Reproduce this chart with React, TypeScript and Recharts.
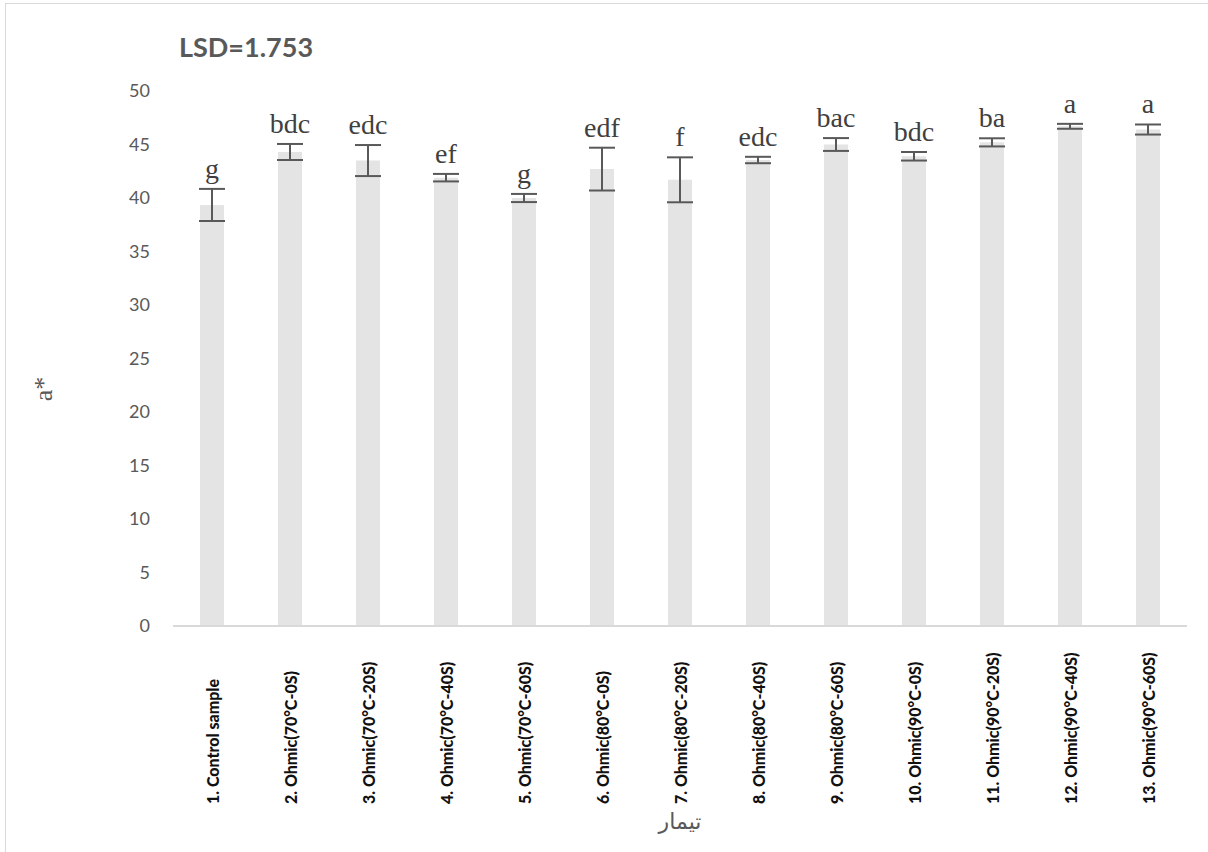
import React from 'react';
import { BarChart, Bar, XAxis, YAxis, ErrorBar, LabelList } from 'recharts';

const treatments = [
  '1. Control sample',
  '2. Ohmic(70°C-0S)',
  '3. Ohmic(70°C-20S)',
  '4. Ohmic(70°C-40S)',
  '5. Ohmic(70°C-60S)',
  '6. Ohmic(80°C-0S)',
  '7. Ohmic(80°C-20S)',
  '8. Ohmic(80°C-40S)',
  '9. Ohmic(80°C-60S)',
  '10. Ohmic(90°C-0S)',
  '11. Ohmic(90°C-20S)',
  '12. Ohmic(90°C-40S)',
  '13. Ohmic(90°C-60S)',
];
const aStar = [39.35, 44.3, 43.5, 41.9, 40.0, 42.7, 41.7, 43.55, 45.0, 43.9, 45.2, 46.7, 46.4];
const aStarSd = [1.5, 0.75, 1.45, 0.35, 0.38, 2.0, 2.1, 0.3, 0.6, 0.4, 0.38, 0.23, 0.47];
const groups = ['g', 'bdc', 'edc', 'ef', 'g', 'edf', 'f', 'edc', 'bac', 'bdc', 'ba', 'a', 'a'];
const yTicks = [0, 5, 10, 15, 20, 25, 30, 35, 40, 45, 50];

const data = treatments.map((name, i) => ({ name, value: aStar[i], err: aStarSd[i], group: groups[i] }));

const GREY = '#595959';
const SERIF = "'Liberation Serif', 'Times New Roman', serif";

// rotated category names, anchored at their bottom end
function TreatmentTick({ x, y, payload }: any) {
  const ty = y + 178;
  return (
    <text
      x={x}
      y={ty}
      transform={`rotate(-90, ${x}, ${ty})`}
      textAnchor="start"
      dominantBaseline="central"
      fontFamily="Lato"
      fontWeight={900}
      fontSize={16}
      fill="#111"
    >
      {payload.value}
    </text>
  );
}

// significance letters sit just above the top of each error bar
function GroupLetter(props: any) {
  const { x, y, width, height, index, value } = props;
  const pxPerUnit = height / aStar[index];
  const top = y - aStarSd[index] * pxPerUnit;
  return (
    <text
      x={x + width / 2}
      y={top - 11}
      textAnchor="middle"
      fontFamily={SERIF}
      fontSize={28}
      fill="#404040"
    >
      {value}
    </text>
  );
}

export default function App() {
  return (
    <div
      style={{
        position: 'absolute',
        left: 0,
        top: 0,
        width: 1208,
        height: 852,
        overflow: 'hidden',
        background: '#fff',
      }}
    >
      <div
        style={{
          position: 'absolute',
          left: 5,
          top: 3,
          width: 1220,
          height: 870,
          border: '1.5px solid #d9d9d9',
        }}
      />
      <div style={{ position: 'absolute', left: 0, top: 0 }}>
        <BarChart
          width={1208}
          height={852}
          data={data}
          margin={{ top: 91, right: 21, bottom: 0, left: 0 }}
          barSize={24}
        >
          <XAxis
            dataKey="name"
            interval={0}
            height={226}
            tickLine={false}
            tickSize={0}
            tickMargin={0}
            axisLine={{ stroke: '#d9d9d9', strokeWidth: 2 }}
            tick={<TreatmentTick />}
          />
          <YAxis
            width={173}
            domain={[0, 50]}
            ticks={yTicks}
            interval={0}
            axisLine={false}
            tickLine={false}
            tickSize={0}
            tickMargin={23}
            tick={{ fontFamily: 'Lato', fontSize: 18, fill: GREY }}
          />
          <Bar dataKey="value" fill="#e4e4e4" isAnimationActive={false}>
            <ErrorBar
              dataKey="err"
              direction="y"
              width={13}
              stroke={GREY}
              strokeWidth={2}
              isAnimationActive={false}
            />
            <LabelList dataKey="group" content={<GroupLetter />} />
          </Bar>
        </BarChart>
      </div>
      {/* chart title and axis titles */}
      <svg
        width={1208}
        height={852}
        style={{ position: 'absolute', left: 0, top: 0, pointerEvents: 'none' }}
      >
        <text
          x={179}
          y={57}
          fontFamily="Lato"
          fontWeight={700}
          fontSize={27}
          fill={GREY}
        >
          LSD=1.753
        </text>
        <text
          x={43}
          y={389}
          transform="rotate(-90, 43, 389)"
          textAnchor="middle"
          dominantBaseline="central"
          fontFamily={SERIF}
          fontSize={26}
          fill={GREY}
        >
          a*
        </text>
        <text
          x={680}
          y={821}
          textAnchor="middle"
          dominantBaseline="central"
          fontFamily="'DejaVu Sans', serif"
          fontSize={22}
          fill={GREY}
        >
          تیمار
        </text>
      </svg>
    </div>
  );
}
